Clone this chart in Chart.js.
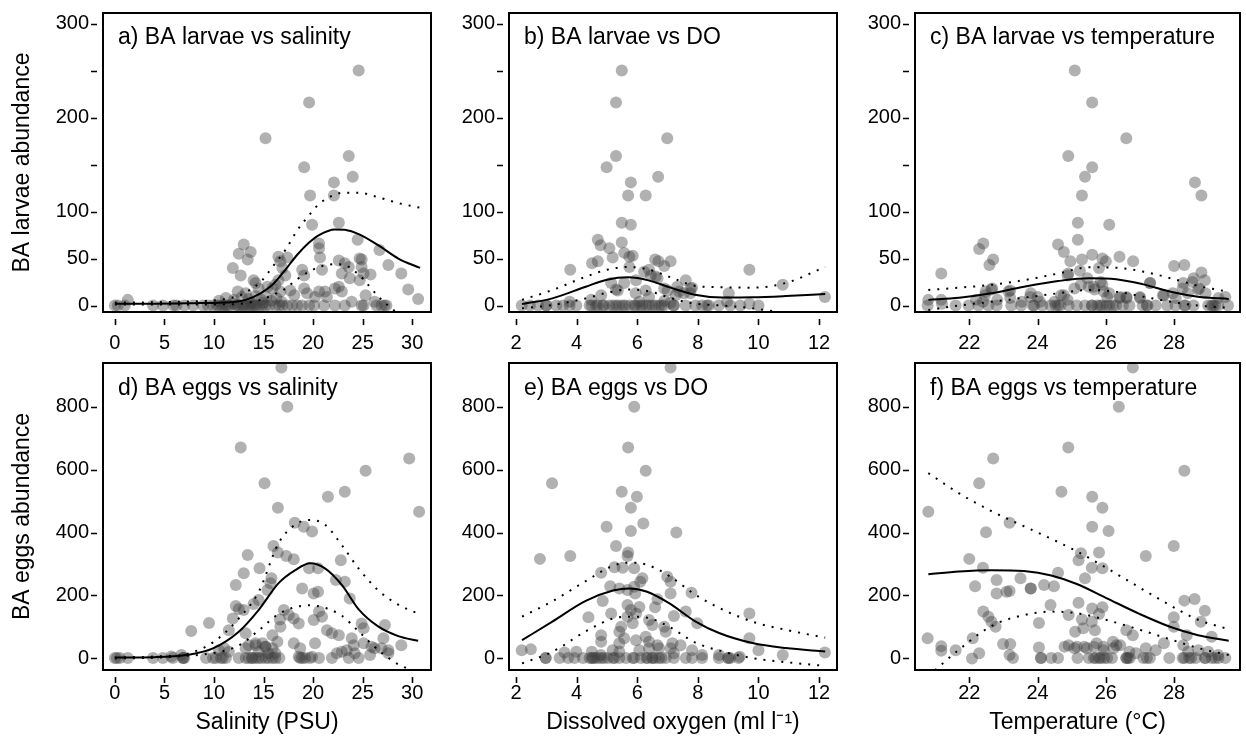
<!DOCTYPE html>
<html>
<head>
<meta charset="utf-8">
<script src="https://cdn.jsdelivr.net/npm/chart.js@4.4.1/dist/chart.umd.min.js"></script>
<style>
  html, body { margin: 0; padding: 0; background: #fff; }
  #wrap { position: relative; width: 1246px; height: 738px; overflow: hidden; background: #fff; }
  #wrap canvas { position: absolute; }
</style>
</head>
<body>
<div id="wrap">
  <canvas id="pa" width="437" height="352" style="left:0px;top:0px"></canvas>
  <canvas id="pb" width="405" height="352" style="left:438px;top:0px"></canvas>
  <canvas id="pc" width="402" height="352" style="left:844px;top:0px"></canvas>
  <canvas id="pd" width="437" height="386" style="left:0px;top:352px"></canvas>
  <canvas id="pe" width="405" height="386" style="left:438px;top:352px"></canvas>
  <canvas id="pf" width="402" height="386" style="left:844px;top:352px"></canvas>
</div>
<script>
// axis ticks
const larvaeTicks = [0, 50, 100, 150, 200, 250, 300];
const larvaeTickLabels = ['0', '50', '100', '', '200', '', '300'];
const eggTicks = [0, 200, 400, 600, 800];
const eggTickLabels = ['0', '200', '400', '600', '800'];
const salinityTicks = [0, 5, 10, 15, 20, 25, 30];
const salinityTickLabels = ['0', '5', '10', '15', '20', '25', '30'];
const oxygenTicks = [2, 4, 6, 8, 10, 12];
const oxygenTickLabels = ['2', '4', '6', '8', '10', '12'];
const tempTicks = [22, 24, 26, 28];
const tempTickLabels = ['22', '24', '26', '28'];

// a) larvae vs salinity
const aPoints = [
  [24.6,250],[19.6,216],[15.2,178],[23.6,159],[19.1,147],[24.0,137],[22.1,131],[19.7,117],[22.1,117],[19.9,86],
  [22.6,88],[24.5,70],[20.6,66],[20.6,61],[13.0,65],[12.5,55],[13.7,57],[13.4,49],[17.4,51],[11.9,40],
  [20.7,51],[24.9,49],[24.9,41],[26.7,59],[27.6,43],[28.9,34],[29.6,17],[30.6,7],
  [12.7,32],[14.0,27],[16.5,52],[16.7,47],[16.9,40],[17.2,32],[18.9,38],[19.1,32],[20.9,38],[22.6,48],
  [23.2,45],[23.6,41],[22.9,34],[23.7,29],[24.7,50],[25.1,34],[24.7,27],[25.8,33],
  [12.4,15],[13.2,13],[14.2,24],[14.5,18],[15.4,20],[15.9,18],[16.2,22],[16.5,27],[16.7,15],[17.7,16],
  [18.1,11],[19.1,18],[19.4,13],[20.2,9],[20.6,15],[21.2,15],[21.4,9],[22.2,18],[22.6,20],[22.9,15],
  [23.9,4],[25.3,11],[26.2,4],
  [10.5,5],[11.2,8],[12.0,6],[12.8,9],[13.5,7],[14.2,10],[14.8,6],[15.3,9],[15.8,5],[16.3,8],[16.8,4],
  [12.0,2],[13.8,3],[15.0,3],[1.3,6]
];
const aZeroX = [0.0,0.3,1.0,3.85,4.85,5.9,6.2,7.0,7.9,8.9,9.4,9.9,10.3,10.5,10.8,11.0,11.2,11.4,11.6,12.2,
  12.4,12.6,12.9,13.0,13.2,13.5,13.7,13.9,14.1,14.3,14.6,14.9,15.2,15.6,16.2,16.6,16.9,17.4,17.9,18.4,
  18.9,19.6,20.1,21.1,22.2,23.2,24.9,25.1,26.4,26.9,27.2,27.4];
const aFitX = [0, 4, 8, 10.5, 12.2, 13.2, 14.7, 15.9, 17.2, 18.4, 19.6, 20.6, 22.2, 23.2, 24.6, 26.6, 28.6, 30.8];
const aFit = [2, 2, 2.5, 3, 4, 6, 13, 22, 38, 54, 67, 75, 81, 80.5, 76, 64, 50, 40];
const aUpper = [3, 3.5, 4.5, 6, 9.4, 14, 25, 41, 59, 80, 96, 108, 118, 120, 120, 115, 109, 104];
const aLower = [1, 1, 1, 1.2, 1.5, 2.5, 6, 11, 18, 28, 36, 41, 44, 43, 33, 9.4, -9, -28];

// b) larvae vs DO
const bPoints = [
  [5.49,250],[5.30,216],[6.99,178],[5.30,159],[4.99,147],[6.69,137],[5.79,131],[5.70,117],[6.28,117],[5.49,88],
  [5.79,86],[4.70,70],[4.79,64],[5.08,61],[5.49,67],[5.19,51],[5.57,56],[5.74,52],[5.85,53],[4.51,45],
  [4.70,47],[3.79,38],[5.74,41],[6.59,49],[6.70,47],[6.89,42],[7.10,47],[6.39,38],[6.61,31],[7.6,27],
  [9.7,38],[10.8,22],[12.19,9],[9.02,13],[7.81,19],[7.75,13],[4.81,11],[4.48,6],[5.14,24],[5.30,17],
  [5.95,13],[6.07,4],[6.28,16],[6.39,9],[7.0,16],[7.27,11],[7.38,15],[6.9,5],[7.1,3],[9.7,2],[8.96,4],[3.77,4],
  [5.36,16],[5.57,24],[5.96,27],[6.23,36],[6.45,32],[6.67,29],[6.89,18],[7.32,20],[7.54,13],[7.76,18]
];
const bZeroX = [2.19,2.46,2.73,3.0,3.0,3.33,3.55,3.77,3.99,4.43,4.5,4.64,4.7,4.86,4.9,5.08,5.2,5.30,5.4,5.52,
  5.6,5.74,5.9,5.96,6.1,6.17,6.3,6.39,6.50,6.6,6.72,6.8,6.89,7.2,7.21,7.60,7.92,8.14,8.3,8.36,8.69,9.07,9.40,10.0];
const bFitX = [2.2, 3.2, 4.3, 5.0, 5.7, 6.4, 7.1, 7.9, 8.8, 9.8, 10.9, 12.2];
const bFit = [1.6, 7.6, 20, 27.5, 30, 26.5, 19, 11.5, 8.5, 8.7, 10, 12.2];
const bUpper = [6, 16.5, 30.6, 38, 41, 38, 30, 21, 19.4, 19, 24, 41];
const bLower = [-3, 0.5, 7.6, 13.5, 17, 15, 8, 2, 0, -3, -8, -15];

// c) larvae vs temperature
const cPoints = [
  [25.09,250],[25.6,216],[26.6,178],[24.9,159],[25.6,147],[25.39,137],[28.61,131],[25.3,117],[28.8,117],[25.18,88],
  [26.1,86],[25.18,70],[24.6,65],[22.41,66],[22.29,60],[22.7,49],[22.59,43],[21.18,34],[24.77,57],[24.96,47],
  [25.3,49],[25.6,54],[25.9,50],[26.0,47],[26.4,52],[26.8,47],[24.9,34],[25.24,37],[25.8,40],[28.0,42],
  [28.3,43],[28.57,29],[28.8,35],[28.9,27],[27.3,24],[28.27,24],[28.4,13],[28.7,17],[22.65,17],[22.46,11],
  [23.2,16],[23.2,8],[20.8,6],[21.18,6],[24.77,11],[25.5,20],[25.67,17],[25.9,22],[26.1,13],[26.4,8],
  [26.6,9],[27.0,8],[27.7,11],[28.05,8],[29.3,8],[29.5,9],[23.8,13],[24.0,9],[22.2,6],[22.4,4],
  [24.88,32],[25.08,18],[25.27,22],[25.46,29],[25.65,20],[25.85,25],[25.94,15],[26.04,9],
  [26.42,9],[26.61,8],[27.0,9],[27.29,24],[27.67,11],[27.96,13],[28.25,18],[28.54,25],[28.73,18],[28.92,13],
  [21.2,2],[22.48,15],[22.67,18],[22.82,6],[23.15,15],[23.54,4],[23.78,9],[24.07,4],[24.5,4],[24.69,11],[24.88,6]
];
const cZeroX = [20.78,21.6,21.98,22.27,22.56,22.8,23.23,23.52,23.86,23.9,24.14,24.38,24.53,24.6,24.67,24.91,25.15,
  25.39,25.59,25.6,25.75,25.83,25.9,26.02,26.1,26.21,26.3,26.5,26.69,27.08,27.2,27.22,27.46,27.8,28.04,28.3,
  28.33,28.57,29.0,29.1,29.14,29.2,29.29,29.58];
const cFitX = [20.8, 21.7, 22.65, 23.6, 24.6, 25.5, 26.3, 27.1, 27.9, 28.7, 29.6];
const cFit = [6, 8.3, 13, 20, 26, 29, 28, 22.5, 14.7, 9.4, 6.9];
const cUpper = [16.5, 19, 22, 27, 34, 40.6, 40.2, 36, 29, 21, 14.5];
const cLower = [-4.8, 0, 4, 8.3, 13, 16.5, 14.7, 9.4, 4, 0, -2.5];

// d) eggs vs salinity
const dPoints = [
  [16.8,926],[17.4,801],[12.7,671],[29.7,636],[25.3,597],[15.1,557],[30.7,466],[16.45,479],[21.5,514],[23.2,530],
  [18.15,431],[19.06,418],[19.9,403],[13.4,328],[16.0,357],[16.45,336],[17.3,325],[18.05,315],[13.0,270],[14.6,286],
  [22.8,312],[19.6,286],[20.5,286],[15.8,254],[15.7,238],[15.4,217],[12.2,233],[22.3,249],[23.2,243],[18.9,222],
  [20.06,206],[20.5,211],[23.7,190],[14.5,185],[12.2,166],[12.5,156],[13.0,153],[14.0,172],[17.05,153],[17.55,137],
  [18.05,126],[20.6,148],[20.9,132],[20.06,121],[18.55,110],[16.65,123],[16.7,100],[9.5,112],[7.7,86],[11.5,89],
  [11.9,126],[13.2,79],[21.4,89],[21.9,79],[22.6,73],[24.9,110],[25.1,95],[23.9,63],[24.1,41],[27.25,105],
  [27.1,63],[28.9,41],[25.1,47],[26.2,31],[27.6,25],[18.05,47],[18.7,31],[20.2,47],[15.9,73],[16.4,52],
  [14.2,41],[14.9,47],[15.2,36],[13.2,31],[10.5,25],[11.03,31],[11.5,20],[6.7,10],[5.7,5],[22.4,15],
  [22.9,20],[23.4,25],[25.75,10],[25.9,36],[13.5,41],[14.2,47],[15.2,36],[15.9,31],[15.5,15],[14.5,20],
  [16.2,15],[24.2,15],[26.9,31],[27.6,15],[18.55,4],[19.9,4]
];
const dZeroX = [0,0.2,0.5,1.3,3.85,4.85,5.85,6.85,6.9,7.0,9.2,9.9,10.2,10.7,10.9,11.2,12.5,13.2,13.5,13.8,
  13.9,14.2,14.5,14.8,15.2,15.5,15.9,16.2,16.6,18.7,18.9,19.2,19.7,20.6,21.9,23.6,24.6];
const dFitX = [0, 4, 7.2, 9.9, 12.5, 14.5, 16.5, 18.2, 19.7, 21.2, 22.9, 24.6, 26.6, 28.6, 30.6];
const dFit = [2, 3, 9.6, 31, 84, 153, 238, 280, 302, 286, 233, 155, 100, 70, 55];
const dUpper = [2, 5, 13, 50, 126, 210, 365, 425, 440, 425, 360, 285, 215, 170, 142];
const dLower = [-1, 1, 7, 16, 40, 88, 140, 162, 168, 160, 135, 85, 25, -20, -45];

// e) eggs vs DO
const ePoints = [
  [7.1,926],[5.9,801],[5.7,671],[6.28,597],[3.19,557],[5.49,530],[5.99,514],[5.79,479],[4.99,418],[6.2,429],
  [5.79,405],[7.29,400],[2.79,316],[3.79,325],[5.3,357],[5.7,336],[5.68,325],[5.25,289],[5.52,288],[5.9,286],
  [4.81,272],[6.17,254],[6.1,243],[6.99,259],[7.1,243],[5.11,229],[5.41,222],[5.9,227],[5.68,217],[5.93,206],
  [7.1,206],[7.79,208],[4.86,182],[6.67,187],[5.14,142],[5.68,169],[5.79,153],[6.07,163],[5.96,142],[6.59,162],
  [7.6,148],[7.21,134],[9.7,142],[4.39,130],[5.47,100],[5.68,132],[5.85,111],[6.39,121],[6.5,105],[6.89,100],
  [6.94,84],[7.98,111],[4.81,73],[4.81,52],[5.41,84],[5.57,63],[5.41,47],[5.96,57],[6.28,68],[6.39,52],
  [6.67,41],[6.72,31],[7.16,47],[7.43,41],[9.7,63],[10.0,25],[10.8,10],[12.19,18],[2.19,25],[2.49,28],
  [3.6,18],[3.99,20],[4.5,20],[4.8,10],[5.19,25],[5.41,20],[6.07,25],[6.39,31],[7.1,31],[7.21,15],
  [7.81,25],[8.14,10],[8.7,10],[9.0,0],[9.38,4]
];
const eZeroX = [2.98,2.98,3.44,3.72,3.93,4.21,4.43,4.5,4.54,4.6,4.7,4.81,4.9,5.03,5.2,5.25,5.41,5.63,5.85,5.9,
  6.12,6.3,6.34,6.5,6.5,6.6,6.72,6.8,6.94,7.21,7.6,7.81,8.14,8.69,9.0,9.07,9.34];
const eFitX = [2.2, 3.2, 4.3, 5.2, 5.75, 6.3, 7.05, 7.9, 8.7, 9.8, 10.9, 12.2];
const eFit = [57, 116, 182, 215, 222, 212, 175, 118, 80, 48, 32, 21];
const eUpper = [132, 181, 245, 294, 304, 298, 262, 203, 160, 116, 90, 65];
const eLower = [-17, 20, 85, 126, 132, 129, 100, 50, 24, 0, -13, -25];

// f) eggs vs temperature
const fPoints = [
  [26.79,926],[26.38,801],[24.9,671],[22.7,636],[28.3,597],[22.29,557],[24.7,530],[25.6,514],[25.9,479],[20.8,466],
  [25.6,418],[26.08,405],[22.49,401],[23.18,431],[27.99,357],[25.27,334],[25.2,312],[25.8,336],[27.17,325],[22.0,316],
  [25.59,288],[25.9,286],[22.4,288],[24.6,272],[22.8,249],[23.5,254],[25.39,254],[22.17,229],[24.19,233],[24.48,229],
  [23.8,222],[23.8,222],[22.8,206],[23.09,211],[23.18,214],[25.2,176],[28.3,183],[28.6,188],[22.41,148],[22.56,132],
  [22.65,116],[24.38,169],[24.91,137],[25.6,158],[25.9,162],[25.8,140],[24.04,112],[28.9,151],[27.99,130],[27.99,100],
  [28.78,116],[25.3,123],[25.59,116],[25.1,84],[25.34,95],[25.68,89],[26.6,89],[26.79,73],[29.1,68],[28.37,73],
  [22.77,100],[22.1,63],[20.78,63],[21.18,38],[21.18,23],[21.6,25],[22.08,-1],[22.29,15],[22.99,45],[23.2,45],
  [23.18,10],[23.28,0],[24.04,34],[24.91,41],[25.15,36],[25.44,31],[25.73,47],[25.93,36],[26.21,52],[26.31,41],
  [26.69,20],[26.88,15],[27.17,31],[27.46,25],[27.7,47],[28.27,41],[28.41,20],[28.71,25],[29.0,20],[29.29,10],
  [24.79,36],[25.08,31],[25.37,36],[25.65,36],[25.94,25],[26.23,31],[26.42,41]
];
const fZeroX = [24.1,24.1,24.4,24.6,25.17,25.5,25.65,25.7,25.8,25.85,25.95,26.04,26.18,26.6,26.6,26.65,26.7,
  27.1,27.2,27.29,27.86,28.25,28.3,28.44,28.5,28.63,28.9,28.92,29.1,29.2,29.3,29.5];
const fFitX = [20.8, 21.7, 22.65, 23.6, 24.4, 25.15, 26.0, 27.0, 27.9, 28.7, 29.6];
const fFit = [267, 276, 280, 277, 263, 236, 192, 140, 99, 73, 55];
const fUpper = [589, 525, 468, 420, 380, 340, 288, 224, 167, 122, 92];
const fLower = [-58, 27, 102, 137, 148, 143, 122, 90, 59, 32, 10];

const FONT = '"Liberation Sans", Arial, Helvetica, sans-serif';
Chart.defaults.font.family = FONT;
Chart.defaults.color = '#000';

// box round the plot, ticks set off from it, and the panel label
const framePlugin = {
  id: 'frame',
  afterDatasetsDraw(chart, args, opts) {
    const { ctx, chartArea: a } = chart;
    const xs = chart.scales.x, ys = chart.scales.y;
    ctx.save();
    ctx.strokeStyle = '#000';
    ctx.lineWidth = 2;
    ctx.strokeRect(a.left, a.top, a.right - a.left, a.bottom - a.top);
    ctx.lineWidth = 1.6;
    ctx.beginPath();
    xs.ticks.forEach(t => {
      const px = Math.round(xs.getPixelForValue(t.value)) + 0.5;
      ctx.moveTo(px, a.bottom + 7);
      ctx.lineTo(px, a.bottom + 13);
    });
    ys.ticks.forEach(t => {
      const py = Math.round(ys.getPixelForValue(t.value)) + 0.5;
      ctx.moveTo(a.left - 6, py);
      ctx.lineTo(a.left - 12, py);
    });
    ctx.stroke();
    ctx.fillStyle = '#000';
    ctx.font = '23px ' + FONT;
    ctx.textBaseline = 'alphabetic';
    ctx.fillText(opts.label, a.left + 15, a.top + opts.labelDy);
    ctx.restore();
  }
};

function curve(xs, ys, dotted) {
  return {
    data: xs.map((x, i) => ({ x: x, y: ys[i] })),
    showLine: true,
    borderColor: '#000',
    borderWidth: 2,
    borderDash: dotted ? [2, 7] : [],
    pointRadius: 0,
    cubicInterpolationMode: 'monotone',
    clip: 0,
    order: 0
  };
}

function dots(points, zeroX) {
  const pts = points.map(p => ({ x: p[0], y: p[1] }))
    .concat(zeroX.map(x => ({ x: x, y: 0 })));
  return {
    data: pts,
    pointRadius: 6,
    pointBackgroundColor: 'rgba(60,60,60,0.4)',
    pointBorderWidth: 0,
    clip: 0,
    order: 1
  };
}

const rows = {
  larvae: { padTop: 13, xHeight: 40, xPad: 19, min: -6.9, max: 311.2, ticks: larvaeTicks, labels: larvaeTickLabels,
            title: 'BA larvae abundance', labelDy: 31 },
  eggs: { padTop: 11, xHeight: 68, xPad: 11, min: -38, max: 940, ticks: eggTicks, labels: eggTickLabels,
          title: 'BA eggs abundance', labelDy: 32 }
};
const cols = {
  salinity: { yWidth: 103, padRight: 4, min: -1.2, max: 31.9, ticks: salinityTicks, labels: salinityTickLabels,
              title: 'Salinity (PSU)', showYTitle: true },
  oxygen: { yWidth: 71, padRight: 4, min: 1.77, max: 12.59, ticks: oxygenTicks, labels: oxygenTickLabels,
            title: 'Dissolved oxygen (ml l\u207B\u00B9)', showYTitle: false },
  temp: { yWidth: 71, padRight: 1, min: 20.41, max: 29.93, ticks: tempTicks, labels: tempTickLabels,
          title: 'Temperature (\u00B0C)', showYTitle: false }
};

function panel(id, label, row, col, points, zeroX, fitX, fit, upper, lower, showXTitle) {
  new Chart(document.getElementById(id), {
    type: 'scatter',
    data: {
      datasets: [
        curve(fitX, fit, false),
        curve(fitX, upper, true),
        curve(fitX, lower, true),
        dots(points, zeroX)
      ]
    },
    options: {
      responsive: false,
      animation: false,
      devicePixelRatio: 1,
      layout: { padding: { top: row.padTop, right: col.padRight, left: 0, bottom: 0 } },
      plugins: {
        legend: { display: false },
        tooltip: { enabled: false },
        frame: { label: label, labelDy: row.labelDy }
      },
      scales: {
        x: {
          type: 'linear',
          min: col.min,
          max: col.max,
          bounds: 'data',
          afterBuildTicks: s => { s.ticks = col.ticks.map(v => ({ value: v })); },
          afterFit: s => { s.height = row.xHeight; s.paddingLeft = 0; s.paddingRight = 0; },
          grid: { display: false, drawTicks: false },
          border: { display: false },
          ticks: {
            autoSkip: false,
            maxRotation: 0,
            padding: row.xPad,
            color: '#000',
            font: { size: 20 },
            callback: (v, i) => col.labels[i]
          },
          title: {
            display: showXTitle,
            text: col.title,
            color: '#000',
            font: { size: 23 },
            padding: { top: 0, bottom: 2 }
          }
        },
        y: {
          type: 'linear',
          min: row.min,
          max: row.max,
          bounds: 'data',
          afterBuildTicks: s => { s.ticks = row.ticks.map(v => ({ value: v })); },
          afterFit: s => { s.width = col.yWidth; s.paddingTop = 0; s.paddingBottom = 0; },
          grid: { display: false, drawTicks: false },
          border: { display: false },
          ticks: {
            autoSkip: false,
            padding: 14,
            color: '#000',
            font: { size: 20 },
            callback: (v, i) => row.labels[i]
          },
          title: {
            display: col.showYTitle,
            text: row.title,
            color: '#000',
            font: { size: 23 },
            padding: { top: 9, bottom: 0 }
          }
        }
      }
    },
    plugins: [framePlugin]
  });
}

panel('pa', 'a) BA larvae vs salinity', rows.larvae, cols.salinity, aPoints, aZeroX, aFitX, aFit, aUpper, aLower, false);
panel('pb', 'b) BA larvae vs DO', rows.larvae, cols.oxygen, bPoints, bZeroX, bFitX, bFit, bUpper, bLower, false);
panel('pc', 'c) BA larvae vs temperature', rows.larvae, cols.temp, cPoints, cZeroX, cFitX, cFit, cUpper, cLower, false);
panel('pd', 'd) BA eggs vs salinity', rows.eggs, cols.salinity, dPoints, dZeroX, dFitX, dFit, dUpper, dLower, true);
panel('pe', 'e) BA eggs vs DO', rows.eggs, cols.oxygen, ePoints, eZeroX, eFitX, eFit, eUpper, eLower, true);
panel('pf', 'f) BA eggs vs temperature', rows.eggs, cols.temp, fPoints, fZeroX, fFitX, fFit, fUpper, fLower, true);
</script>
</body>
</html>
